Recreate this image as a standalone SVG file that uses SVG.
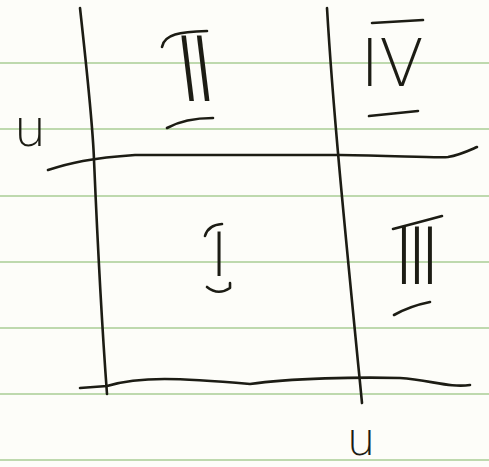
<svg xmlns="http://www.w3.org/2000/svg" width="489" height="467" viewBox="0 0 489 467">
<style>
.rule{stroke:#a9cd95;stroke-width:1.6;fill:none}
.ink{stroke:#1c1c14;stroke-width:2.6;fill:none;stroke-linecap:round;stroke-linejoin:round}
.lbl{font-family:"DejaVu Sans","Liberation Sans",sans-serif;font-weight:200;fill:#1c1c14;text-anchor:middle}
</style>
<rect width="489" height="467" fill="#fdfdf9"/>
<g id="rules">
<line class="rule" x1="0" y1="63" x2="489" y2="63"/>
<line class="rule" x1="0" y1="129" x2="489" y2="129"/>
<line class="rule" x1="0" y1="196" x2="489" y2="196"/>
<line class="rule" x1="0" y1="262" x2="489" y2="262"/>
<line class="rule" x1="0" y1="328" x2="489" y2="328"/>
<line class="rule" x1="0" y1="394" x2="489" y2="394"/>
<line class="rule" x1="0" y1="460" x2="489" y2="460"/>
</g>
<g id="axes">
<path class="ink" d="M80,8 C88,80 93,130 94,160 C97,230 100,300 107,394"/>
<path class="ink" d="M327,8 C333,110 344,220 362,403"/>
<path class="ink" d="M48,170 C70,163 90,158 135,155 L340,155 C400,156 440,158 448,157 C460,155 470,150 477,147"/>
<path class="ink" d="M80,388 L107,386 C140,376 180,378 250,384 C290,378 360,377 400,378 C430,380 450,388 470,385"/>
</g>
<g id="label-u-left">
<text class="lbl" x="30" y="146" font-size="52">u</text>
</g>
<g id="label-u-bottom">
<text class="lbl" x="361" y="455" font-size="46">u</text>
</g>
<g id="region-II">
<text class="lbl" font-size="90" letter-spacing="-11" transform="translate(194,101) skewX(7)">II</text>
<path class="ink" d="M162,47 C164,34 180,32 207,31"/>
<path class="ink" d="M167,128 Q185,118 213,118"/>
</g>
<g id="region-IV">
<text class="lbl" font-size="65" transform="translate(392,86)">IV</text>
<path class="ink" d="M372,23 L423,20"/>
<path class="ink" d="M369,116 L418,111"/>
</g>
<g id="region-I">
<text class="lbl" font-size="60" transform="translate(219,276)">I</text>
<path class="ink" d="M205,236 Q208,225 222,224"/>
<path class="ink" d="M207,287 Q218,296 230,288 L230,283"/>
</g>
<g id="region-III">
<text class="lbl" font-size="78" letter-spacing="-10" transform="translate(412,284)">III</text>
<path class="ink" d="M393,229 Q420,222 442,216"/>
<path class="ink" d="M394,315 Q410,306 430,302"/>
</g>
</svg>
